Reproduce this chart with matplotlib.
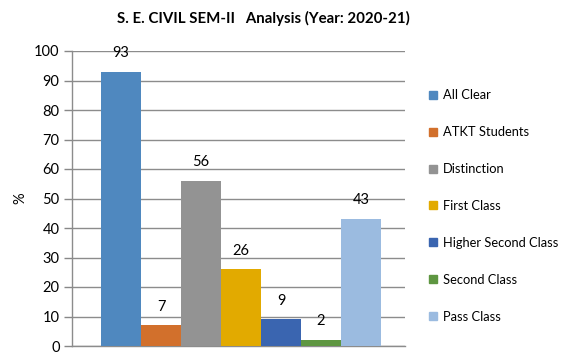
import matplotlib
matplotlib.use("Agg")
import matplotlib.pyplot as plt
from matplotlib.lines import Line2D

categories = ["All Clear", "ATKT Students", "Distinction", "First Class",
              "Higher Second Class", "Second Class", "Pass Class"]
values = [93, 7, 56, 26, 9, 2, 43]
colors = ["#4F88BF", "#D2702C", "#939393", "#E2AA00", "#3A65B0", "#5E9641", "#9BBBE0"]
yticks = [0, 10, 20, 30, 40, 50, 60, 70, 80, 90, 100]

plt.rcParams['font.family'] = ['Lato', 'DejaVu Sans']

fig = plt.figure(figsize=(5.66, 3.57), dpi=100)
ax = fig.add_axes([72/566, 11/357, 333/566, 295/357])

width = 40/333
x0 = (101 - 72)/333
for i, (v, c) in enumerate(zip(values, colors)):
    xc = x0 + width*(i + 0.5)
    ax.bar(xc, v, width=width, color=c, zorder=3, label=categories[i])
    ax.annotate(str(v), (xc, v), xytext=(0, 13.5), textcoords='offset points',
                ha='center', va='center', fontsize=10.5, color='#000000', zorder=4)

ax.set_xlim(0, 1)
ax.set_ylim(0, 100)
ax.set_yticks(yticks)
ax.set_xticks([])
ax.tick_params(axis='y', length=6, width=1, color='#888888', labelsize=10.5, pad=3)
ax.grid(axis='y', color='#8C8C8C', linewidth=1, zorder=0)
for s in ['top', 'right']:
    ax.spines[s].set_visible(False)
for s in ['left', 'bottom']:
    ax.spines[s].set_color('#8C8C8C')
    ax.spines[s].set_linewidth(1)
ax.set_ylabel('%', fontsize=10.5, labelpad=5)

handles = [Line2D([0], [0], marker='s', linestyle='none', markersize=6,
                  markerfacecolor=c, markeredgecolor=c) for c in colors]
leg = fig.legend(handles, categories, loc='upper left', bbox_to_anchor=(420/566, 1 - 84/357),
                 frameon=False, fontsize=9.3, labelspacing=1.93, handletextpad=0.15,
                 handlelength=1.2, borderaxespad=0)

fig.text(263/566, 1 - 18/357, 'S. E. CIVIL SEM-II   Analysis (Year: 2020-21)',
         ha='center', va='center', fontsize=10.8, fontweight='bold')

fig.savefig('out.png', dpi=100)
